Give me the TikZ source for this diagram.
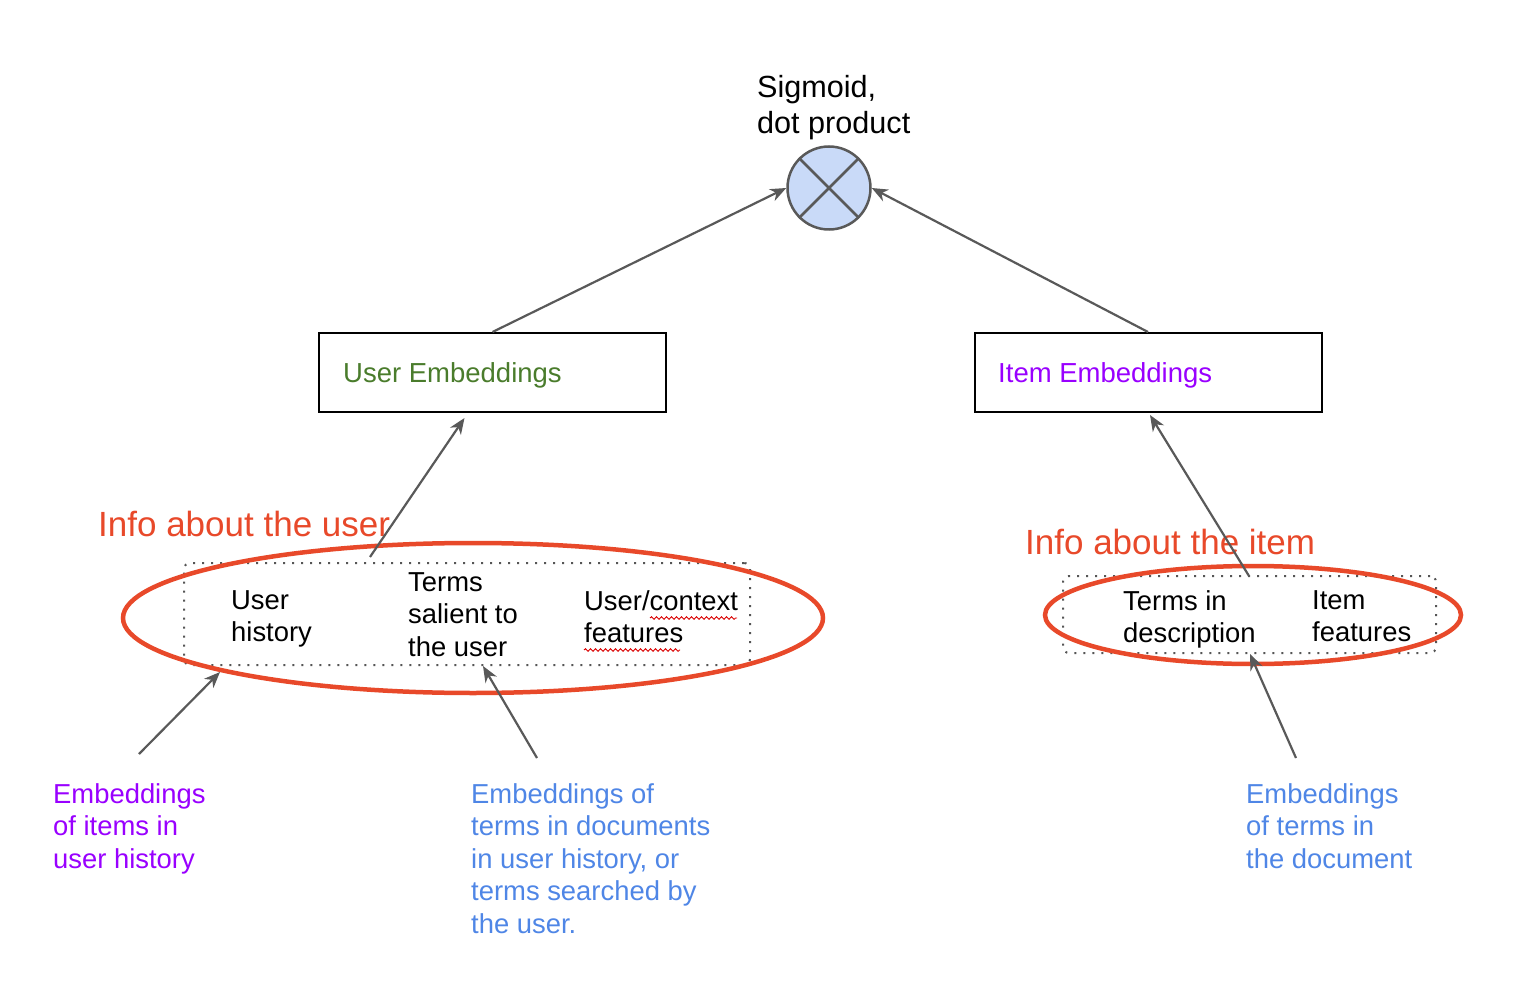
\documentclass[tikz,border=0pt]{standalone}
\usepackage{fontspec}
\setmainfont{Liberation Sans}
\usetikzlibrary{arrows.meta,calc,shapes.geometric,decorations.pathmorphing}
\definecolor{arrgray}{HTML}{595959}
\definecolor{ored}{HTML}{E8492A}
\definecolor{ugreen}{HTML}{4A7C2C}
\definecolor{ipurple}{HTML}{9900FF}
\definecolor{tblue}{HTML}{4F86E6}
\definecolor{cfill}{HTML}{C9DAF8}
\definecolor{dotgray}{HTML}{555555}
\begin{document}
\begin{tikzpicture}[x=1pt,y=-1pt,
  arr/.style={draw=arrgray, line width=2.2pt, -{Stealth[length=16pt,width=13pt,inset=5pt]}},
  body/.style={font=\fontsize{27.4}{32.5}\selectfont, align=left, inner sep=0pt, anchor=north west},
  embbox/.style={draw=black, line width=2pt, minimum width=347pt, minimum height=79pt, inner sep=0pt},
  embtxt/.style={font=\fontsize{27.5}{32}\selectfont, inner sep=0pt, anchor=base west},
  infotxt/.style={font=\fontsize{35}{40}\selectfont, text=ored, inner sep=0pt, anchor=base west},
  dotbox/.style={draw=dotgray, line width=2pt, dash pattern=on 2pt off 7pt, rounded corners=6pt, inner sep=0pt},
  redell/.style={ellipse, draw=ored, line width=4.5pt, inner sep=0pt},
  squig/.style={draw=red!85!black, line width=0.9pt, decorate, decoration={snake, amplitude=1.3pt, segment length=5pt}}
]
\useasboundingbox (0,0) rectangle (1534,984);

% top operator
\node[font=\fontsize{30.6}{36}\selectfont, align=left, inner sep=0pt, anchor=north west] (sig) at (757,75) {Sigmoid,\\dot product};
\node[circle, draw=arrgray, fill=cfill, line width=2.5pt, minimum size=83pt, inner sep=0pt] (dot) at (829,188) {};
\draw[arrgray, line width=2.5pt] (dot.north west) -- (dot.south east) (dot.north east) -- (dot.south west);

% embedding boxes
\node[embbox] (ue) at (492.5,372.5) {};
\node[embtxt, text=ugreen] (uet) at (343,382.5) {User Embeddings};
\node[embbox] (ie) at (1148,372.5) {};
\node[embtxt, text=ipurple] (iet) at (998,382.5) {Item Embeddings};

\draw[arr] (ue.north) -- (dot.west);
\draw[arr] (ie.north) -- (dot.east);

% info labels
\node[infotxt] (iu) at (98,536) {Info about the user};
\node[infotxt] (ii) at (1025,554) {Info about the item};

% user group
\node[dotbox, minimum width=566pt, minimum height=102pt] (ubox) at (467,614) {};
\node[redell, minimum width=700pt, minimum height=150pt] (uell) at (473,618) {};
\node[body] (uh) at (231,590) {User\\history};
\node[body] (ts) at (408,572) {Terms\\salient to\\the user};
\node[body] (uc) at (584,590) {User/context\\features};
\draw[squig] (650,618) -- (737,618);
\draw[squig] (584,650) -- (680,650);

% item group
\node[dotbox, minimum width=373pt, minimum height=77pt] (ibox) at (1249.5,614.5) {};
\node[redell, minimum width=416pt, minimum height=98pt] (iell) at (1253,615) {};
\node[body] (td) at (1123,590) {Terms in\\description};
\node[body] (if) at (1312,590) {Item\\features};

% arrows into embeddings
\coordinate (uup) at (370,557);
\coordinate (iup) at (1249,576);
\draw[arr] (uup) -- ($(ue.south)+(-28,5)$);
\draw[arr] (iup) -- ($(ie.south)+(2,2)$);

% bottom descriptions
\node[body, text=ipurple] (eh) at (53,783) {Embeddings\\of items in\\user history};
\node[body, text=tblue] (et) at (471,783) {Embeddings of\\terms in documents\\in user history, or\\terms searched by\\the user.};
\node[body, text=tblue] (ed) at (1246,783) {Embeddings\\of terms in\\the document};

\coordinate (ehs) at (139,754);
\coordinate (ets) at (537,758);
\coordinate (eds) at (1296,758);
\draw[arr] (ehs) -- (220,672);
\draw[arr] (ets) -- (ubox.south -| 483,0);
\draw[arr] (eds) -- (ibox.south -| 1250,0);
\end{tikzpicture}
\end{document}
